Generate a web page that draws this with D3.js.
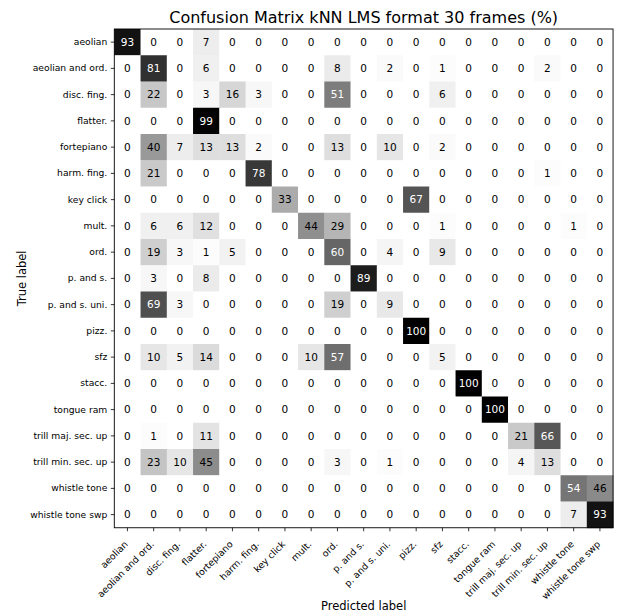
<!DOCTYPE html>
<html>
<head>
<meta charset="utf-8">
<script src="https://cdn.jsdelivr.net/npm/d3@7"></script>
<style>
  body { margin: 0; background: #fff; }
  text { font-family: "DejaVu Sans", sans-serif; }
</style>
</head>
<body>
<div id="chart"></div>
<script>
var w = 620, h = 616;
var offx = 114.3, offy = 29, cell = 26.25;

var labels = ["aeolian", "aeolian and ord.", "disc. fing.", "flatter.", "fortepiano",
  "harm. fing.", "key click", "mult.", "ord.", "p. and s.", "p. and s. uni.", "pizz.",
  "sfz", "stacc.", "tongue ram", "trill maj. sec. up", "trill min. sec. up",
  "whistle tone", "whistle tone swp"];

// rows = true label, columns = predicted label
var matrix = [
  [93, 0, 0, 7, 0, 0, 0, 0, 0, 0, 0, 0, 0, 0, 0, 0, 0, 0, 0],
  [0, 81, 0, 6, 0, 0, 0, 0, 8, 0, 2, 0, 1, 0, 0, 0, 2, 0, 0],
  [0, 22, 0, 3, 16, 3, 0, 0, 51, 0, 0, 0, 6, 0, 0, 0, 0, 0, 0],
  [0, 0, 0, 99, 0, 0, 0, 0, 0, 0, 0, 0, 0, 0, 0, 0, 0, 0, 0],
  [0, 40, 7, 13, 13, 2, 0, 0, 13, 0, 10, 0, 2, 0, 0, 0, 0, 0, 0],
  [0, 21, 0, 0, 0, 78, 0, 0, 0, 0, 0, 0, 0, 0, 0, 0, 1, 0, 0],
  [0, 0, 0, 0, 0, 0, 33, 0, 0, 0, 0, 67, 0, 0, 0, 0, 0, 0, 0],
  [0, 6, 6, 12, 0, 0, 0, 44, 29, 0, 0, 0, 1, 0, 0, 0, 0, 1, 0],
  [0, 19, 3, 1, 5, 0, 0, 0, 60, 0, 4, 0, 9, 0, 0, 0, 0, 0, 0],
  [0, 3, 0, 8, 0, 0, 0, 0, 0, 89, 0, 0, 0, 0, 0, 0, 0, 0, 0],
  [0, 69, 3, 0, 0, 0, 0, 0, 19, 0, 9, 0, 0, 0, 0, 0, 0, 0, 0],
  [0, 0, 0, 0, 0, 0, 0, 0, 0, 0, 0, 100, 0, 0, 0, 0, 0, 0, 0],
  [0, 10, 5, 14, 0, 0, 0, 10, 57, 0, 0, 0, 5, 0, 0, 0, 0, 0, 0],
  [0, 0, 0, 0, 0, 0, 0, 0, 0, 0, 0, 0, 0, 100, 0, 0, 0, 0, 0],
  [0, 0, 0, 0, 0, 0, 0, 0, 0, 0, 0, 0, 0, 0, 100, 0, 0, 0, 0],
  [0, 1, 0, 11, 0, 0, 0, 0, 0, 0, 0, 0, 0, 0, 0, 21, 66, 0, 0],
  [0, 23, 10, 45, 0, 0, 0, 0, 3, 0, 1, 0, 0, 0, 0, 4, 13, 0, 0],
  [0, 0, 0, 0, 0, 0, 0, 0, 0, 0, 0, 0, 0, 0, 0, 0, 0, 54, 46],
  [0, 0, 0, 0, 0, 0, 0, 0, 0, 0, 0, 0, 0, 0, 0, 0, 0, 7, 93]
];

var title = "Confusion Matrix kNN LMS format 30 frames (%)";

var size = cell * labels.length;
var x = d3.scaleBand().domain(labels).range([0, size]);
var y = d3.scaleBand().domain(labels).range([0, size]);
// gray_r: 0 -> white, 100 -> black
var color = d3.scaleLinear().domain([0, 100]).range(["#ffffff", "#000000"]);
var thresh = 50;

var svg = d3.select("#chart").append("svg").attr("width", w).attr("height", h);
var root = svg.append("g").attr("transform", "translate(" + offx + "," + offy + ")");

var cells = [];
matrix.forEach(function (row, i) {
  row.forEach(function (v, j) {
    cells.push({ t: labels[i], p: labels[j], v: v });
  });
});

root.selectAll("rect.cell").data(cells).enter().append("rect")
  .attr("class", "cell")
  .attr("x", function (d) { return x(d.p); })
  .attr("y", function (d) { return y(d.t); })
  .attr("width", x.bandwidth() + 0.4)
  .attr("height", y.bandwidth() + 0.4)
  .attr("fill", function (d) { return color(d.v); });

root.selectAll("text.val").data(cells).enter().append("text")
  .attr("class", "val")
  .attr("x", function (d) { return x(d.p) + x.bandwidth() / 2; })
  .attr("y", function (d) { return y(d.t) + y.bandwidth() / 2; })
  .attr("dy", "0.36em")
  .attr("text-anchor", "middle")
  .style("font-size", "10.5px")
  .attr("fill", function (d) { return d.v > thresh ? "#fff" : "#000"; })
  .text(function (d) { return d.v; });

// frame
root.append("rect").attr("width", size).attr("height", size)
  .attr("fill", "none").attr("stroke", "#000").attr("stroke-width", 0.9);

// y axis
var yAxis = root.append("g").call(d3.axisLeft(y).tickSize(3.5).tickPadding(3.5));
yAxis.select(".domain").remove();
yAxis.selectAll("text").style("font-size", "9.2px").style("font-family", "DejaVu Sans");
yAxis.selectAll("line").attr("stroke-width", 0.8);

// x axis
var xAxis = root.append("g").attr("transform", "translate(0," + size + ")")
  .call(d3.axisBottom(x).tickSize(3.5).tickPadding(3.5));
xAxis.select(".domain").remove();
xAxis.selectAll("line").attr("stroke-width", 0.8);
xAxis.selectAll("text")
  .style("font-size", "9.3px").style("font-family", "DejaVu Sans")
  .attr("text-anchor", "end")
  .attr("y", 0).attr("dy", 0)
  .attr("transform", "translate(1,17) rotate(-45)");

// titles
svg.append("text").attr("x", offx + size / 2).attr("y", 23)
  .attr("text-anchor", "middle").style("font-size", "16px").text(title);
svg.append("text").attr("x", offx + size / 2).attr("y", 610)
  .attr("text-anchor", "middle").style("font-size", "11.5px").text("Predicted label");
svg.append("text").attr("transform", "translate(26," + (offy + size / 2) + ") rotate(-90)")
  .attr("text-anchor", "middle").style("font-size", "11.5px").text("True label");
</script>
</body>
</html>
